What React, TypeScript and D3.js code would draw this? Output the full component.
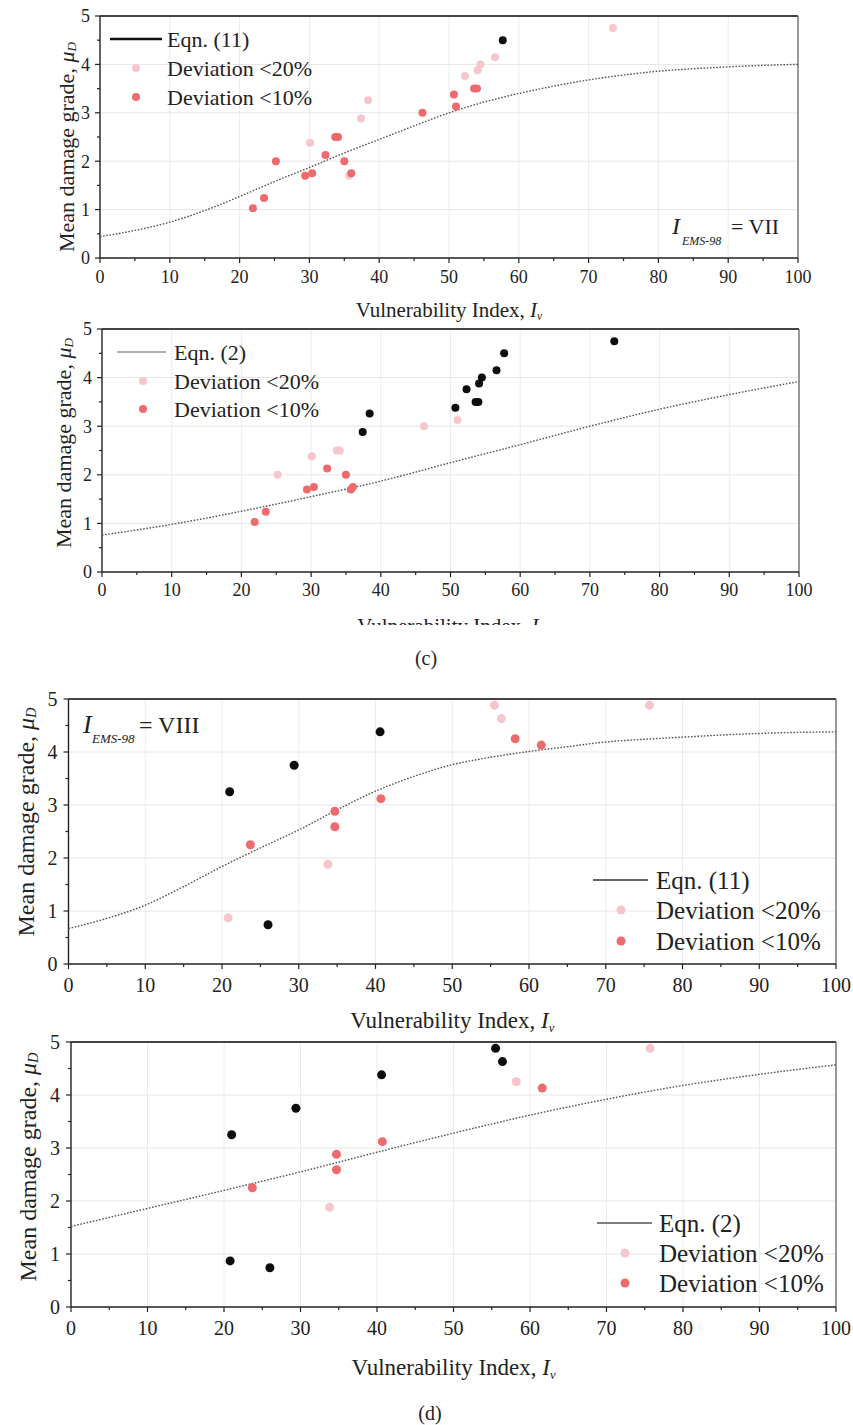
import React from 'react';
import * as d3 from 'd3';

// ---------- data ----------
const xTicks = [0, 10, 20, 30, 40, 50, 60, 70, 80, 90, 100];
const yTicks = [0, 1, 2, 3, 4, 5];
const xMinor = [5, 15, 25, 35, 45, 55, 65, 75, 85, 95];
const yMinor = [0.5, 1.5, 2.5, 3.5, 4.5];

// (c) I_EMS-98 = VII observations
const ivC = [21.9, 23.5, 25.2, 29.4, 30.1, 30.4, 32.3, 33.7, 34.1, 35.0, 35.7, 36.0, 37.4, 38.4, 46.2, 50.7, 51.0, 52.3, 53.6, 54.0, 54.1, 54.5, 56.6, 57.7, 73.5];
const muC = [1.03, 1.24, 2.0, 1.70, 2.38, 1.75, 2.13, 2.5, 2.5, 2.0, 1.70, 1.75, 2.88, 3.26, 3.0, 3.38, 3.13, 3.76, 3.5, 3.5, 3.88, 4.0, 4.15, 4.5, 4.75];
// deviation category: r = <10%, l = <20%, b = outside
const devC11 = ['r', 'r', 'r', 'r', 'l', 'r', 'r', 'r', 'r', 'r', 'l', 'r', 'l', 'l', 'r', 'r', 'r', 'l', 'r', 'r', 'l', 'l', 'l', 'b', 'l'];
const devC2 = ['r', 'r', 'l', 'r', 'l', 'r', 'r', 'l', 'l', 'r', 'r', 'r', 'b', 'b', 'l', 'b', 'l', 'b', 'b', 'b', 'b', 'b', 'b', 'b', 'b'];

// (d) I_EMS-98 = VIII observations
const ivD = [20.8, 21.0, 23.7, 26.0, 29.4, 33.8, 34.7, 34.7, 40.6, 40.7, 55.5, 56.4, 58.2, 61.6, 75.7];
const muD = [0.87, 3.25, 2.25, 0.74, 3.75, 1.88, 2.88, 2.59, 4.38, 3.12, 4.88, 4.63, 4.25, 4.13, 4.88];
const devD11 = ['l', 'b', 'r', 'b', 'b', 'l', 'r', 'r', 'b', 'r', 'l', 'l', 'r', 'r', 'l'];
const devD2 = ['b', 'b', 'r', 'b', 'b', 'l', 'r', 'r', 'b', 'r', 'b', 'b', 'l', 'r', 'l'];

// curves
const curveIv5 = [0, 5, 10, 15, 20, 25, 30, 35, 40, 45, 50, 55, 60, 65, 70, 75, 80, 85, 90, 95, 100];
const curveIv10 = [0, 10, 20, 30, 40, 50, 60, 70, 80, 90, 100];
const eq11C = [0.44, 0.57, 0.74, 0.98, 1.27, 1.58, 1.87, 2.17, 2.45, 2.73, 3.0, 3.22, 3.40, 3.55, 3.68, 3.78, 3.86, 3.91, 3.95, 3.98, 4.0];
const eq2C = [0.76, 0.98, 1.25, 1.55, 1.87, 2.25, 2.62, 3.0, 3.35, 3.65, 3.92];
const eq11D = [0.67, 0.86, 1.11, 1.46, 1.84, 2.19, 2.53, 2.91, 3.26, 3.54, 3.76, 3.9, 4.01, 4.1, 4.19, 4.24, 4.28, 4.32, 4.35, 4.37, 4.38];
const eq2D = [1.52, 1.86, 2.2, 2.55, 2.92, 3.28, 3.62, 3.92, 4.18, 4.39, 4.57];

const legendDev = ['Deviation <20%', 'Deviation <10%'];

// ---------- styles ----------
const FONT = "'Liberation Serif', 'Times New Roman', Times, serif";
const COLORS: Record<string, string> = { r: '#ef6a6d', l: '#f5c6cc', b: '#0d0d0d' };

type Geo = {
  left: number; right: number; top: number; bottom: number;
  tickFs: number; tickDy: number; yTickGap: number;
  yLabX: number; yLabCy: number; yLabFs: number;
  xLabY: number; xLabFs: number; r: number;
  leg: { x1: number; x2: number; mx: number; tx: number; ys: number[]; fs: number; color: string; w: number };
};

const T = (fs: number, extra: React.CSSProperties = {}): React.CSSProperties => ({ fontFamily: FONT, fontSize: fs, ...extra });

function Panel(props: {
  g: Geo; iv: number[]; mu: number[]; dev: string[]; cx: number[]; cy: number[];
  eqn: string; annot?: React.ReactNode; clip?: string;
}) {
  const { g, iv, mu, dev, cx, cy, eqn, annot, clip } = props;
  const x = d3.scaleLinear().domain([0, 100]).range([g.left, g.right]);
  const y = d3.scaleLinear().domain([0, 5]).range([g.bottom, g.top]);
  const line = d3.line<number>().x((_, i) => x(cx[i])).y((d) => y(d)).curve(d3.curveMonotoneX);
  const order = ['l', 'r', 'b'];
  const pts = iv.map((v, i) => ({ v, m: mu[i], c: dev[i] }))
    .sort((a, b) => order.indexOf(a.c) - order.indexOf(b.c));
  return (
    <g>
      {/* grid */}
      {xTicks.slice(1, -1).map((t) => (
        <line key={'gx' + t} x1={x(t)} x2={x(t)} y1={g.top} y2={g.bottom} stroke="#ececec" strokeWidth={1} />
      ))}
      {yTicks.slice(1, -1).map((t) => (
        <line key={'gy' + t} x1={g.left} x2={g.right} y1={y(t)} y2={y(t)} stroke="#e6e6e6" strokeWidth={1} />
      ))}
      {/* frame */}
      <line x1={g.left} x2={g.right} y1={g.top} y2={g.top} stroke="#444" strokeWidth={2} />
      <line x1={g.right} x2={g.right} y1={g.top} y2={g.bottom} stroke="#555" strokeWidth={1.2} />
      <line x1={g.left} x2={g.left} y1={g.top} y2={g.bottom} stroke="#222" strokeWidth={1.4} />
      <line x1={g.left} x2={g.right} y1={g.bottom} y2={g.bottom} stroke="#222" strokeWidth={1.4} />
      {/* ticks */}
      {xTicks.map((t) => (
        <g key={'xt' + t}>
          <line x1={x(t)} x2={x(t)} y1={g.bottom} y2={g.bottom + 5} stroke="#222" strokeWidth={1.2} />
          <text x={x(t)} y={g.bottom + g.tickDy} style={T(g.tickFs)} textAnchor="middle" fill="#222">{t}</text>
        </g>
      ))}
      {xMinor.map((t) => (
        <line key={'xm' + t} x1={x(t)} x2={x(t)} y1={g.bottom} y2={g.bottom + 3} stroke="#222" strokeWidth={1.2} />
      ))}
      {yTicks.map((t) => (
        <g key={'yt' + t}>
          <line x1={g.left - 5} x2={g.left} y1={y(t)} y2={y(t)} stroke="#222" strokeWidth={1.2} />
          <text x={g.left - g.yTickGap} y={y(t)} dy="0.35em" style={T(g.tickFs)} textAnchor="end" fill="#222">{t}</text>
        </g>
      ))}
      {yMinor.map((t) => (
        <line key={'ym' + t} x1={g.left - 3} x2={g.left} y1={y(t)} y2={y(t)} stroke="#222" strokeWidth={1.2} />
      ))}
      {/* curve */}
      <path d={line(cy) || ''} fill="none" stroke="#555" strokeWidth={1.4} strokeDasharray="1.6 1.6" />
      {/* points */}
      {pts.map((p, i) => (
        <circle key={'p' + i} cx={x(p.v)} cy={y(p.m)} r={g.r} fill={COLORS[p.c]} />
      ))}
      {/* axis labels */}
      <text transform={`translate(${g.yLabX},${g.yLabCy}) rotate(-90)`} textAnchor="middle" dominantBaseline="central"
        style={T(g.yLabFs)} fill="#222">
        Mean damage grade, <tspan style={{ fontStyle: 'italic' }}>μ</tspan>
        <tspan style={{ fontStyle: 'italic', fontSize: g.yLabFs * 0.6 }} dy="0.35em">D</tspan>
      </text>
      <g clipPath={clip}>
        <text x={(g.left + g.right) / 2} y={g.xLabY} textAnchor="middle" style={T(g.xLabFs)} fill="#222">
          Vulnerability Index, <tspan style={{ fontStyle: 'italic' }}>I</tspan>
          <tspan style={{ fontStyle: 'italic', fontSize: g.xLabFs * 0.55 }} dy="0.3em">v</tspan>
        </text>
      </g>
      {/* legend */}
      <line x1={g.leg.x1} x2={g.leg.x2} y1={g.leg.ys[0]} y2={g.leg.ys[0]} stroke={g.leg.color} strokeWidth={g.leg.w} />
      <text x={g.leg.tx} y={g.leg.ys[0]} dy="0.35em" style={T(g.leg.fs)} fill="#222">{eqn}</text>
      {legendDev.map((s, i) => (
        <g key={'lg' + i}>
          <circle cx={g.leg.mx} cy={g.leg.ys[i + 1]} r={g.r} fill={i === 0 ? COLORS.l : COLORS.r} />
          <text x={g.leg.tx} y={g.leg.ys[i + 1]} dy="0.35em" style={T(g.leg.fs)} fill="#222">{s}</text>
        </g>
      ))}
      {annot}
    </g>
  );
}

const G1: Geo = {
  left: 100, right: 798, top: 16, bottom: 258, tickFs: 18, tickDy: 25, yTickGap: 10,
  yLabX: 66, yLabCy: 147, yLabFs: 22, xLabY: 317, xLabFs: 21, r: 4,
  leg: { x1: 110, x2: 162, mx: 136, tx: 167, ys: [39, 68, 97], fs: 22, color: '#111', w: 2.5 },
};
const G2: Geo = {
  left: 102, right: 799, top: 329, bottom: 572, tickFs: 18, tickDy: 24, yTickGap: 10,
  yLabX: 63, yLabCy: 443, yLabFs: 22, xLabY: 633, xLabFs: 21, r: 4,
  leg: { x1: 117, x2: 166, mx: 143, tx: 174, ys: [352, 381, 409], fs: 22, color: '#b0b0b0', w: 2 },
};
const G3: Geo = {
  left: 68.5, right: 836, top: 699, bottom: 964, tickFs: 20, tickDy: 28, yTickGap: 11,
  yLabX: 26, yLabCy: 822, yLabFs: 24, xLabY: 1028, xLabFs: 23, r: 4.5,
  leg: { x1: 593, x2: 648, mx: 621, tx: 656, ys: [880, 910, 941], fs: 25, color: '#333', w: 1.6 },
};
const G4: Geo = {
  left: 71, right: 836, top: 1042, bottom: 1307, tickFs: 20, tickDy: 28, yTickGap: 11,
  yLabX: 28, yLabCy: 1167, yLabFs: 24, xLabY: 1375, xLabFs: 23, r: 4.5,
  leg: { x1: 597, x2: 652, mx: 625, tx: 659, ys: [1223, 1253, 1283], fs: 25, color: '#555', w: 1.6 },
};

export default function App() {
  return (
    <svg width={853} height={1425} style={{ position: 'absolute', left: 0, top: 0, background: '#fff', fontFamily: FONT }}
      xmlns="http://www.w3.org/2000/svg">
      <defs>
        <clipPath id="clipP2">
          <rect x={0} y={0} width={853} height={625} />
        </clipPath>
      </defs>
      <rect width={853} height={1425} fill="#fff" />
      <Panel g={G1} iv={ivC} mu={muC} dev={devC11} cx={curveIv5} cy={eq11C} eqn="Eqn. (11)"
        annot={
          <g fill="#222">
            <text x={672} y={234} style={T(24, { fontStyle: 'italic' })}>I</text>
            <text x={682} y={245} style={T(12, { fontStyle: 'italic' })}>EMS-98</text>
            <text x={731} y={234} style={T(22)}>= VII</text>
          </g>
        } />
      <Panel g={G2} iv={ivC} mu={muC} dev={devC2} cx={curveIv10} cy={eq2C} eqn="Eqn. (2)" clip="url(#clipP2)" />
      <text x={426} y={665} style={T(20)} textAnchor="middle" fill="#222">(c)</text>
      <Panel g={G3} iv={ivD} mu={muD} dev={devD11} cx={curveIv5} cy={eq11D} eqn="Eqn. (11)"
        annot={
          <g fill="#222">
            <text x={83} y={733} style={T(26, { fontStyle: 'italic' })}>I</text>
            <text x={92} y={743} style={T(13, { fontStyle: 'italic' })}>EMS-98</text>
            <text x={139} y={733} style={T(24)}>= VIII</text>
          </g>
        } />
      <Panel g={G4} iv={ivD} mu={muD} dev={devD2} cx={curveIv10} cy={eq2D} eqn="Eqn. (2)" />
      <text x={430} y={1420} style={T(20)} textAnchor="middle" fill="#222">(d)</text>
    </svg>
  );
}
